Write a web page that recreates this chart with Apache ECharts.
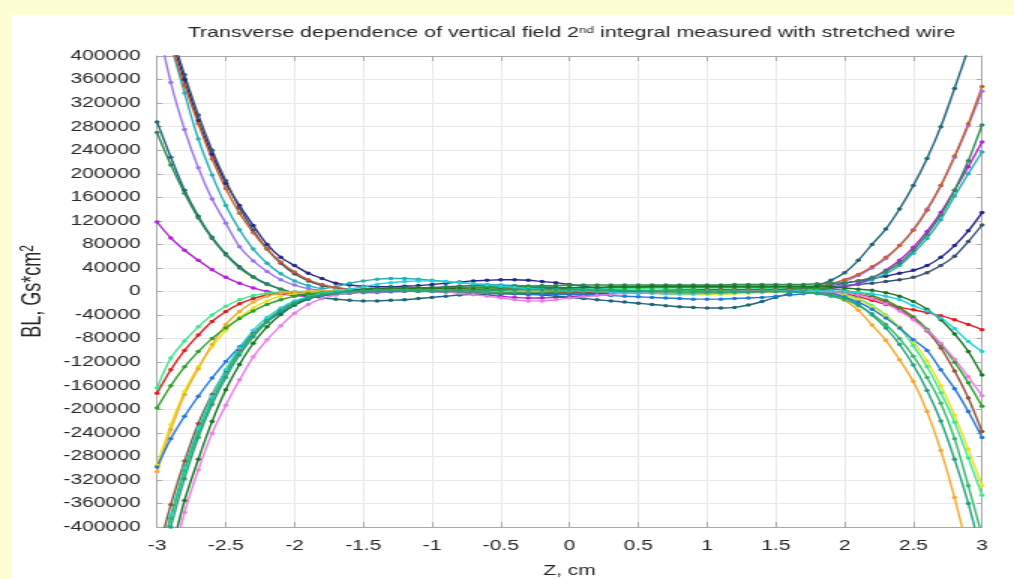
<!DOCTYPE html>
<html>
<head>
<meta charset="utf-8">
<script src="https://cdn.jsdelivr.net/npm/echarts@6/dist/echarts.min.js"></script>
<style>
  html, body { margin: 0; padding: 0; background: #fdfdd3; overflow: hidden; }
  #panel { position: absolute; left: 12px; top: 15px; right: 0; bottom: 0; background: #ffffff; }
  /* the source picture is stretched sideways, so the chart is drawn narrow and widened */
  #chart { position: absolute; left: 0; top: 0; width: 676px; height: 579px; transform: scaleX(1.5); transform-origin: 0 0; }
</style>
</head>
<body>
<div id="panel"></div>
<div id="chart"></div>
<script>
// transverse position, cm
const zPos = [-3.0, -2.9, -2.8, -2.7, -2.6, -2.5, -2.4, -2.3, -2.2, -2.1, -2.0, -1.9, -1.8, -1.7, -1.6, -1.5, -1.4, -1.3, -1.2, -1.1, -1.0,
  -0.9, -0.8, -0.7, -0.6, -0.5, -0.4, -0.3, -0.2, -0.1, 0.0, 0.1, 0.2, 0.3, 0.4, 0.5, 0.6, 0.7, 0.8, 0.9, 1.0,
  1.1, 1.2, 1.3, 1.4, 1.5, 1.6, 1.7, 1.8, 1.9, 2.0, 2.1, 2.2, 2.3, 2.4, 2.5, 2.6, 2.7, 2.8, 2.9, 3.0];

// BL values in thousands of Gs*cm^2, one row per wire run
const navy = [500, 430, 360, 290, 233, 184, 146, 112, 80, 58, 44, 31,
  22, 14, 11, 9, 8, 8, 9, 10, 12, 14, 16, 18, 19, 20, 20, 19, 17, 15, 12, 9, 6, 3, 1, -1, -2, -3, -3, -3, -3, -2, -1, 0, 2, 3, 5, 6, 8,
  11, 14, 18, 22, 26, 31, 36, 44, 58, 78, 103, 134];
const darkSlate = [510, 440, 368, 300, 240, 188, 142, 104, 72, 48, 30, 18,
  10, 6, 4, 3, 3, 4, 5, 6, 7, 8, 9, 10, 10, 10, 10, 9, 8, 7, 5, 4, 3, 2, 1, 0, 0, -1, -1, -1, 0, 0, 1, 2, 3, 4, 5, 6, 7,
  8, 10, 12, 14, 17, 20, 24, 32, 44, 60, 85, 113];
const seaCyan = [510, 420, 337, 259, 198, 146, 105, 72, 48, 30, 18, 10,
  5, 8, 14, 18, 21, 22, 22, 21, 19, 17, 15, 13, 12, 11, 10, 9, 8, 7, 6, 5, 4, 3, 2, 1, 0, -1, -2, -2, -2, -1, 0, 1, 1, 2, 2, 3, 4,
  6, 9, 13, 20, 30, 44, 65, 90, 122, 162, 200, 237];
const magenta = [118, 91, 70, 53, 37, 24, 14, 6, 0, -4, -7, -8,
  -7, -5, -3, -1, 0, 1, 1, 1, 0, -1, -2, -4, -6, -8, -10, -11, -11, -10, -9, -7, -5, -3, -1, 0, 1, 2, 3, 3, 3, 3, 3, 2, 2, 2, 2, 2, 3,
  5, 8, 14, 23, 36, 53, 75, 102, 134, 172, 212, 254];
const lavender = [460, 355, 275, 210, 157, 116, 76, 52, 34, 20, 11, 5,
  2, 0, -1, -2, -2, -1, 0, 1, 2, 3, 4, 5, 6, 6, 6, 5, 4, 3, 2, 1, 0, -1, -2, -3, -3, -3, -3, -2, -1, 0, 1, 1, 2, 2, 3, 4, 6,
  10, 17, 27, 40, 56, 78, 105, 140, 180, 228, 282, 340];
const rust = [500, 420, 350, 285, 225, 175, 133, 100, 72, 50, 33, 20,
  12, 7, 4, 3, 2, 2, 3, 4, 5, 5, 6, 6, 6, 5, 5, 4, 4, 3, 3, 2, 2, 1, 1, 1, 1, 1, 1, 1, 1, 2, 2, 3, 4, 5, 6, 7, 9,
  13, 20, 29, 42, 58, 78, 104, 138, 180, 230, 285, 348];
const darkTeal = [288, 228, 172, 128, 92, 64, 42, 25, 13, 4, -3, -8,
  -11, -13, -15, -16, -16, -15, -14, -12, -10, -8, -6, -5, -4, -4, -4, -5, -6, -8, -10, -12, -14, -16, -18, -20, -22, -24, -26, -27, -28, -28, -27, -23, -17, -10, -3, 4, 10,
  19, 32, 53, 80, 106, 140, 180, 226, 280, 345, 413, 490];
const seaGreen = [270, 215, 167, 125, 90, 62, 40, 24, 12, 4, -2, -5,
  -6, -5, -3, -1, 0, 1, 2, 3, 4, 5, 6, 7, 8, 8, 9, 9, 10, 10, 11, 11, 11, 11, 11, 11, 11, 11, 11, 11, 11, 11, 12, 12, 12, 12, 12, 12, 13,
  14, 15, 18, 24, 34, 48, 70, 97, 130, 172, 222, 283];

const red = [-173, -133, -100, -74, -51, -34, -21, -12, -6, -3, -2, -2,
  -1, 0, 1, 2, 2, 3, 3, 3, 3, 2, 2, 1, 0, -1, -2, -3, -3, -4, -4, -4, -3, -3, -2, -2, -1, 0, 1, 1, 2, 2, 2, 2, 2, 2, 2, 2, 2,
  0, -3, -9, -15, -22, -27, -31, -36, -41, -48, -56, -65];
const mint = [-164, -113, -84, -60, -40, -25, -14, -7, -3, -1, 0, 0,
  1, 2, 3, 4, 5, 6, 6, 6, 6, 6, 5, 5, 5, 4, 4, 4, 4, 4, 4, 4, 4, 5, 5, 5, 6, 6, 6, 6, 6, 6, 6, 6, 5, 5, 4, 3, 2,
  -1, -5, -12, -24, -40, -62, -92, -128, -172, -222, -283, -346];
const yellow = [-295, -226, -170, -128, -94, -66, -44, -28, -16, -8, -4, -2,
  -1, 0, 1, 2, 3, 3, 3, 3, 2, 2, 1, 1, 0, 0, 0, 1, 1, 2, 2, 2, 1, 0, -1, -2, -3, -4, -5, -5, -5, -5, -4, -3, -2, -1, 0, 0, 0,
  -2, -6, -14, -26, -41, -60, -85, -118, -160, -210, -268, -330];
const orange = [-306, -235, -175, -131, -90, -56, -34, -18, -8, -3, -1, 0,
  1, 2, 3, 4, 4, 5, 5, 5, 5, 5, 5, 4, 4, 4, 3, 3, 2, 2, 1, 1, 0, 0, -1, -1, -2, -2, -2, -2, -2, -2, -2, -1, -1, 0, 0, -1, -3,
  -7, -15, -32, -57, -83, -116, -153, -204, -270, -350, -445, -550];
const green = [-198, -160, -128, -102, -80, -62, -46, -33, -22, -14, -8, -4,
  -2, 0, 1, 2, 3, 4, 5, 6, 6, 7, 7, 7, 7, 7, 7, 7, 7, 7, 7, 7, 7, 7, 7, 7, 7, 7, 7, 7, 7, 7, 7, 7, 7, 7, 6, 6, 5, 4, 2,
  -2, -7, -15, -27, -43, -64, -90, -120, -155, -195, -239, -287];
const blue = [-298, -250, -212, -178, -147, -119, -94, -71, -51, -36, -23, -13,
  -7, -3, 0, 2, 3, 3, 3, 3, 2, 1, 0, -1, -2, -3, -4, -4, -5, -5, -5, -5, -6, -7, -8, -9, -10, -11, -12, -13, -13, -13, -12, -11, -10, -8, -6, -4, -2,
  -3, -9, -18, -30, -45, -62, -82, -100, -133, -165, -204, -248];
const brown = [-450, -362, -288, -224, -175, -135, -100, -72, -49, -31, -19, -11,
  -6, -3, -1, 0, 1, 1, 1, 1, 1, 0, 0, -1, -1, -2, -2, -2, -2, -2, -2, -2, -1, -1, 0, 0, 1, 1, 2, 2, 3, 3, 3, 3, 3, 3, 3, 2, 1,
  0, -1, -5, -10, -18, -30, -46, -67, -96, -135, -181, -238];
const violet = [-580, -470, -375, -303, -241, -193, -150, -111, -82, -58, -37, -22,
  -12, -6, -2, 0, 1, 2, 2, 1, 0, -1, -3, -5, -8, -11, -14, -16, -16, -14, -11, -9, -7, -5, -3, -2, -1, 0, 0, 1, 1, 1, 1, 1, 1, 1, 1, 1, 0,
  0, -2, -6, -12, -21, -33, -48, -66, -88, -115, -145, -177];
const darkGreen = [-540, -445, -355, -285, -221, -167, -124, -88, -60, -39, -23, -12,
  -5, -1, 2, 4, 5, 6, 6, 6, 6, 5, 5, 4, 4, 4, 4, 5, 5, 6, 6, 7, 7, 8, 8, 8, 9, 9, 9, 9, 9, 9, 9, 9, 9, 9, 9, 9, 9,
  8, 6, 4, 2, -2, -8, -17, -30, -48, -72, -102, -142];
const cyan = [-470, -380, -300, -232, -178, -133, -96, -66, -44, -28, -16, -9,
  -4, 0, 4, 8, 12, 15, 17, 18, 18, 17, 15, 13, 11, 9, 7, 5, 4, 3, 2, 1, 0, -1, -2, -3, -3, -4, -4, -4, -3, -3, -2, -1, 0, 1, 1, 1, 1,
  1, 0, -2, -4, -8, -14, -24, -33, -45, -63, -85, -102];
const mediumGreen = [-470, -385, -305, -240, -185, -140, -103, -73, -50, -32, -19, -10,
  -5, -2, 0, 1, 2, 2, 2, 2, 1, 1, 0, 0, -1, -1, -1, -1, -1, 0, 0, 1, 1, 2, 2, 2, 2, 2, 2, 2, 1, 1, 1, 0, 0, 0, -1, -2, -4,
  -8, -14, -24, -38, -56, -80, -110, -146, -190, -250, -330, -415];
const tealGreen = [-490, -400, -318, -248, -192, -146, -108, -77, -52, -33, -20, -11,
  -6, -3, -1, 0, 1, 1, 1, 0, 0, 0, 1, 1, 2, 2, 3, 3, 3, 3, 3, 3, 2, 2, 1, 1, 0, 0, -1, -1, -1, -1, -1, -1, 0, 0, 0, -1, -3,
  -6, -11, -22, -40, -62, -90, -125, -168, -220, -285, -360, -450];

const runs = [
  ['navy', navy, '#26268c'],
  ['darkSlate', darkSlate, '#3a5170'],
  ['seaCyan', seaCyan, '#22b0b4'],
  ['magenta', magenta, '#b21fd6'],
  ['lavender', lavender, '#9a72ee'],
  ['rust', rust, '#c6602c'],
  ['darkTeal', darkTeal, '#1f6479'],
  ['seaGreen', seaGreen, '#2c8a56'],
  ['red', red, '#e21c1c'],
  ['mint', mint, '#3fe58c'],
  ['yellow', yellow, '#e4e41c'],
  ['orange', orange, '#f2aa2c'],
  ['green', green, '#2aa12a'],
  ['blue', blue, '#2278dc'],
  ['brown', brown, '#8e5438'],
  ['violet', violet, '#ea7ee6'],
  ['darkGreen', darkGreen, '#1b7424'],
  ['cyan', cyan, '#1fd3dc'],
  ['mediumGreen', mediumGreen, '#36b866'],
  ['tealGreen', tealGreen, '#1fa27e']
];

const yTicks = { min: -400000, max: 400000, interval: 40000 };
const xTicks = { min: -3, max: 3, interval: 0.5 };

const textColor = '#262626';
const frameColor = '#a8a8a8';
const font = 'Liberation Sans';
const supStyle = { fontSize: 9, verticalAlign: 'top', padding: [0, 0, 6, 0], color: textColor, fontFamily: font };

const myChart = echarts.init(document.getElementById('chart'), null, { renderer: 'canvas', width: 676, height: 579 });

const option = {
  backgroundColor: 'transparent',
  animation: false,
  textStyle: { fontFamily: font },
  title: {
    text: 'Transverse dependence of vertical field 2{sup|nd} integral measured with stretched wire',
    left: 376,
    top: 21,
    textAlign: 'center',
    textStyle: {
      fontFamily: font,
      fontSize: 14.3,
      fontWeight: 'normal',
      color: textColor,
      rich: { sup: supStyle }
    }
  },
  grid: { left: 104.7, right: 21.3, top: 56, bottom: 52, outerBoundsMode: 'none' },
  xAxis: [{
    type: 'value',
    min: xTicks.min,
    max: xTicks.max,
    interval: xTicks.interval,
    name: 'Z, cm',
    nameLocation: 'middle',
    nameGap: 37,
    nameTextStyle: { fontSize: 14, color: textColor, fontFamily: font },
    axisLine: { show: true, onZero: false, lineStyle: { color: frameColor, width: 1 } },
    axisTick: { show: true, inside: true, length: 5, lineStyle: { color: frameColor } },
    axisLabel: { fontSize: 14, color: textColor, margin: 12 },
    splitLine: { show: true, lineStyle: { color: '#e8e8e8', width: 1 } }
  }, {
    type: 'value',
    position: 'top',
    min: xTicks.min,
    max: xTicks.max,
    interval: xTicks.interval,
    axisLine: { show: true, onZero: false, lineStyle: { color: frameColor, width: 1 } },
    axisTick: { show: true, inside: true, length: 5, lineStyle: { color: frameColor } },
    axisLabel: { show: false },
    splitLine: { show: false }
  }],
  yAxis: [{
    type: 'value',
    min: yTicks.min,
    max: yTicks.max,
    interval: yTicks.interval,
    name: 'BL, Gs*cm{sup|2}',
    nameLocation: 'middle',
    nameGap: 68,
    nameRotate: 90,
    nameTextStyle: {
      fontSize: 18, color: textColor, fontFamily: font,
      rich: { sup: { fontSize: 12, verticalAlign: 'top', padding: [0, 0, 8, 0], color: textColor, fontFamily: font } }
    },
    axisLine: { show: true, onZero: false, lineStyle: { color: frameColor, width: 1 } },
    axisTick: { show: true, inside: true, length: 3.5, lineStyle: { color: frameColor } },
    axisLabel: { fontSize: 14, color: textColor, margin: 11, formatter: v => String(v) },
    splitLine: { show: true, lineStyle: { color: '#e8e8e8', width: 1 } }
  }, {
    type: 'value',
    position: 'right',
    min: yTicks.min,
    max: yTicks.max,
    interval: yTicks.interval,
    axisLine: { show: true, onZero: false, lineStyle: { color: frameColor, width: 1 } },
    axisTick: { show: true, inside: true, length: 3.5, lineStyle: { color: frameColor } },
    axisLabel: { show: false },
    splitLine: { show: false }
  }],
  series: runs.map(([name, vals, color]) => ({
    name,
    type: 'line',
    xAxisIndex: 0,
    yAxisIndex: 0,
    clip: true,
    smooth: 0.3,
    symbol: 'circle',
    symbolSize: 3.5,
    showSymbol: true,
    itemStyle: { color },
    lineStyle: { color, width: 1.4 },
    data: zPos.map((z, i) => [z, vals[i] * 1000])
  }))
};

myChart.setOption(option);
</script>
</body>
</html>
